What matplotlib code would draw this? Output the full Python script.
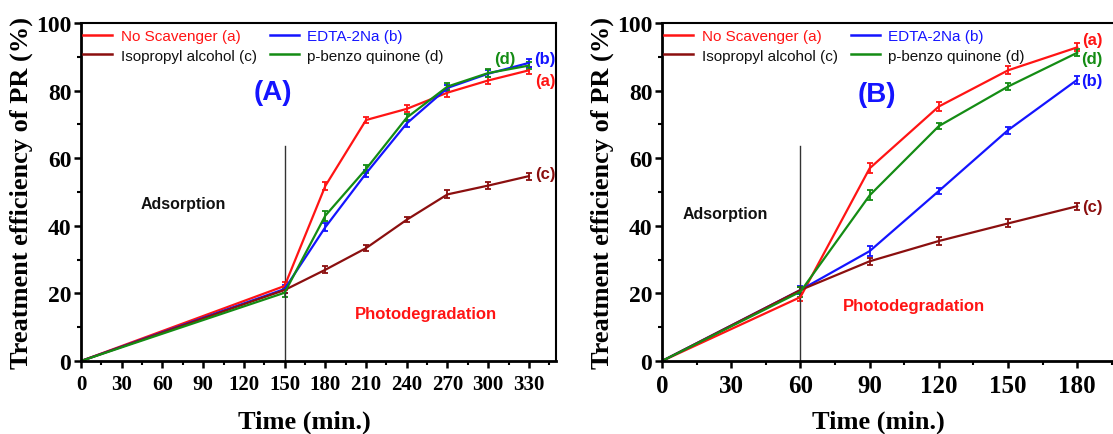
import matplotlib
matplotlib.use("Agg")
import matplotlib.pyplot as plt
from matplotlib.lines import Line2D
from matplotlib.ticker import MultipleLocator

# tiempos de muestreo (min)
tiempo_a = [0, 150, 180, 210, 240, 270, 300, 330]
tiempo_b = [0, 60, 90, 120, 150, 180]

# Panel A: eficiencia (%) por secuestrante
a_sin = [0, 22.2, 51.8, 71.3, 74.6, 79.4, 83.0, 86.0]
a_edta = [0, 21.3, 39.6, 55.5, 70.3, 80.8, 85.0, 88.2]
a_ipa = [0, 21.0, 27.0, 33.4, 41.8, 49.3, 51.9, 54.7]
a_bq = [0, 20.2, 43.0, 56.8, 72.0, 81.2, 85.2, 87.4]
err_a_sin = [0, 1.2, 1.2, 1.0, 1.0, 1.2, 1.0, 1.0]
err_a_edta = [0, 1.2, 1.2, 1.0, 1.0, 1.0, 1.0, 1.2]
err_a_ipa = [0, 0.8, 1.0, 0.8, 0.8, 1.2, 1.0, 1.0]
err_a_bq = [0, 1.2, 1.5, 1.2, 1.0, 1.0, 1.2, 1.0]

# Panel B
b_sin = [0, 18.9, 57.0, 75.3, 86.0, 92.8]
b_edta = [0, 21.0, 32.5, 50.3, 68.3, 83.2]
b_ipa = [0, 21.0, 29.5, 35.5, 40.7, 45.8]
b_bq = [0, 20.5, 49.0, 69.5, 81.2, 91.2]
err_b_sin = [0, 1.2, 1.5, 1.2, 1.2, 1.2]
err_b_edta = [0, 1.2, 1.5, 0.8, 1.0, 1.2]
err_b_ipa = [0, 1.0, 1.0, 1.2, 1.2, 1.0]
err_b_bq = [0, 1.5, 1.5, 1.0, 1.0, 1.0]

nombres = ['No Scavenger (a)', 'EDTA-2Na (b)', 'Isopropyl alcohol (c)', 'p-benzo quinone (d)']
colores = ['#ff1414', '#1414ff', '#8b0f0f', '#148c14']
# color del texto en la leyenda (la segunda fila va en negro)
colores_texto = ['#ff1414', '#1414ff', '#111111', '#111111']

fuente_sans = 'Liberation Sans'
fuente_serif = 'Liberation Serif'


def panel(ax, t, series, errores, xmax, xpaso, t_luz, letra, pos_letra,
          pos_ads, pos_foto, etiquetas, x_titulo, tam_xticks):
    for y, e, c in zip(series, errores, colores):
        ax.errorbar(t, y, yerr=e, color=c, lw=1.6, elinewidth=1.3,
                    capsize=2.5, capthick=1.3)
    ax.plot([t_luz, t_luz], [0, 63.5], color='#333333', lw=1.0)
    ax.set_xlim(0, xmax)
    ax.set_ylim(0, 100)
    ax.xaxis.set_major_locator(MultipleLocator(xpaso))
    ax.xaxis.set_minor_locator(MultipleLocator(xpaso / 2))
    ax.yaxis.set_major_locator(MultipleLocator(20))
    ax.yaxis.set_minor_locator(MultipleLocator(10))
    ax.tick_params(which='major', direction='out', length=5, width=1.8, pad=2)
    ax.tick_params(axis='x', which='major', labelsize=tam_xticks, pad=4)
    ax.tick_params(axis='y', which='major', labelsize=17)
    ax.tick_params(which='minor', direction='out', length=3, width=1.5)
    for lab in ax.get_xticklabels() + ax.get_yticklabels():
        lab.set_fontfamily(fuente_serif)
        lab.set_fontweight('bold')
    for s in ['left', 'bottom']:
        ax.spines[s].set_linewidth(2.0)
    for s in ['top', 'right']:
        ax.spines[s].set_linewidth(1.5)
    ax.set_xlabel('Time (min.)', fontfamily=fuente_serif, fontweight='bold',
                  fontsize=19, labelpad=8)
    ax.xaxis.set_label_coords(x_titulo, -0.145)
    ax.set_ylabel('Treatment efficiency of PR (%)', fontfamily=fuente_serif,
                  fontweight='bold', fontsize=19, labelpad=2)

    # leyenda por columnas: (a) (c) | (b) (d)
    orden = [0, 2, 1, 3]
    manijas = [Line2D([], [], color=colores[i], lw=1.8) for i in orden]
    ley = ax.legend(manijas, [nombres[i] for i in orden], loc='upper left',
                    ncol=2, frameon=False,
                    prop={'family': fuente_sans, 'size': 11},
                    handlelength=1.9, handletextpad=0.55, columnspacing=0.85,
                    labelspacing=0.35, borderaxespad=0.0, borderpad=0.3,
                    bbox_to_anchor=(-0.005, 0.995))
    for txt, i in zip(ley.get_texts(), orden):
        txt.set_color(colores_texto[i])

    ax.text(pos_letra[0], pos_letra[1], letra, color='#1414ff', fontsize=20,
            fontweight='bold', fontfamily=fuente_sans, ha='center', va='center')
    ax.text(pos_ads[0], pos_ads[1], 'Adsorption', color='#111111', fontsize=11.5,
            fontweight='bold', fontfamily=fuente_sans, ha='center', va='center')
    ax.text(pos_foto[0], pos_foto[1], 'Photodegradation', color='#ff1414',
            fontsize=12, fontweight='bold', fontfamily=fuente_sans,
            ha='center', va='center')
    for (x, y, s), c in zip(etiquetas, colores):
        ax.text(x, y, s, color=c, fontsize=12, fontweight='bold',
                fontfamily=fuente_sans, ha='center', va='center')


fig = plt.figure(figsize=(11.13, 4.35), dpi=100)
ax_a = fig.add_axes([0.0728, 0.1678, 0.4268, 0.777])
ax_b = fig.add_axes([0.5948, 0.1678, 0.4145, 0.777])

panel(ax_a, tiempo_a, [a_sin, a_edta, a_ipa, a_bq],
      [err_a_sin, err_a_edta, err_a_ipa, err_a_bq], 350, 30, 150,
      '(A)', (141, 79.5), (75, 46.5), (254, 14),
      [(342, 83, '(a)'), (342, 89.5, '(b)'), (342, 55.5, '(c)'), (312, 89.5, '(d)')],
      0.47, 15)

panel(ax_b, tiempo_b, [b_sin, b_edta, b_ipa, b_bq],
      [err_b_sin, err_b_edta, err_b_ipa, err_b_bq], 200, 30, 60,
      '(B)', (93, 79), (27.5, 43.5), (109, 16.3),
      [(186.5, 95, '(a)'), (186.5, 83, '(b)'), (186.5, 45.7, '(c)'), (186.5, 89.5, '(d)')],
      0.47, 18)

fig.savefig('out.png', dpi=100)
